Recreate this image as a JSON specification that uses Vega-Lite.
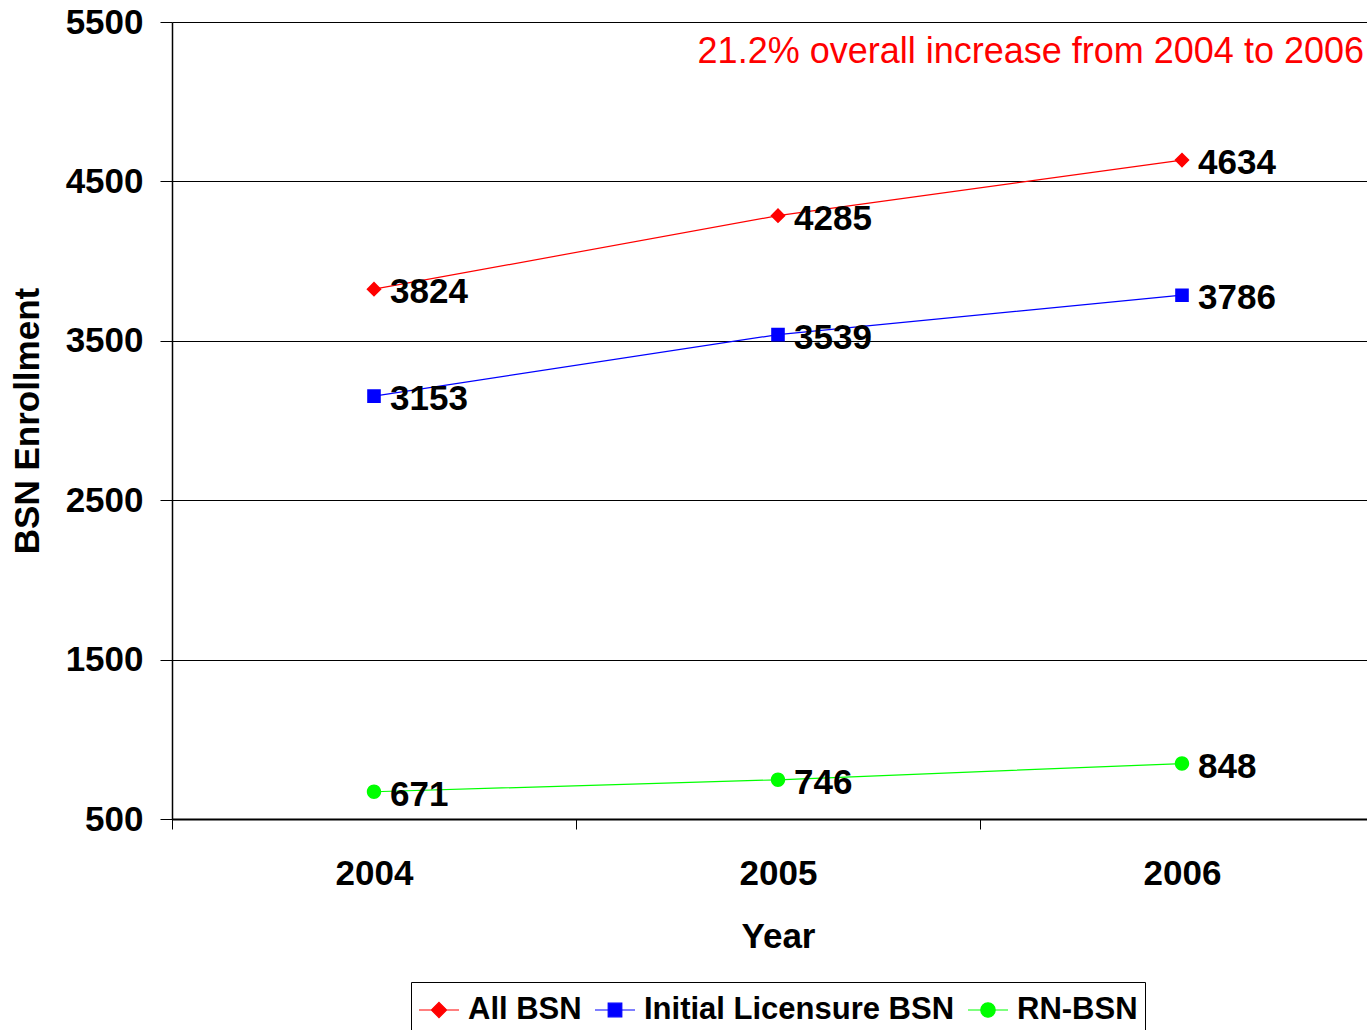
{
  "$schema": "https://vega.github.io/schema/vega-lite/v6.json",
  "autosize": "none",
  "width": 1212,
  "height": 797,
  "padding": {"left": 172, "top": 22, "right": 0, "bottom": 211},
  "background": "white",
  "config": {
    "font": "Liberation Sans",
    "view": {"stroke": null},
    "axis": {"labelFont": "Liberation Sans", "titleFont": "Liberation Sans", "labelColor": "black", "titleColor": "black", "domainColor": "black", "tickColor": "black"},
    "legend": {
      "title": null, "orient": "none", "legendX": 239, "legendY": 960, "direction": "horizontal",
      "strokeColor": "black", "padding": 7, "fillColor": "white",
      "labelFont": "Liberation Sans", "labelFontSize": 31, "labelFontWeight": "bold", "labelColor": "black", "labelLimit": 500,
      "labelOffset": 8, "columnPadding": 10, "symbolSize": 1600, "symbolStrokeWidth": 1.2
    }
  },
  "data": {
    "values": [
      {"Year": "2004", "Series": "All BSN", "Enrollment": 3824},
      {"Year": "2005", "Series": "All BSN", "Enrollment": 4285},
      {"Year": "2006", "Series": "All BSN", "Enrollment": 4634},
      {"Year": "2004", "Series": "Initial Licensure BSN", "Enrollment": 3153},
      {"Year": "2005", "Series": "Initial Licensure BSN", "Enrollment": 3539},
      {"Year": "2006", "Series": "Initial Licensure BSN", "Enrollment": 3786},
      {"Year": "2004", "Series": "RN-BSN", "Enrollment": 671},
      {"Year": "2005", "Series": "RN-BSN", "Enrollment": 746},
      {"Year": "2006", "Series": "RN-BSN", "Enrollment": 848}
    ]
  },
  "encoding": {
    "x": {
      "field": "Year", "type": "ordinal",
      "scale": {"paddingInner": 0, "paddingOuter": 0},
      "axis": {
        "title": "Year", "titleFontSize": 35, "titleFontWeight": "bold", "titlePadding": 28,
        "labelAngle": 0, "labelFontSize": 35, "labelFontWeight": "bold", "labelPadding": 27,
        "tickBand": "extent", "tickSize": 10, "tickWidth": 1, "domainWidth": 2, "grid": false
      }
    },
    "y": {
      "field": "Enrollment", "type": "quantitative",
      "scale": {"domain": [500, 5500], "nice": false, "zero": false},
      "axis": {
        "title": "BSN Enrollment", "titleFontSize": 35, "titleFontWeight": "bold", "titlePadding": 20,
        "values": [500, 1500, 2500, 3500, 4500, 5500], "format": "d",
        "labelFontSize": 35, "labelFontWeight": "bold", "labelPadding": 17,
        "tickSize": 12, "tickWidth": 1, "domainWidth": 1.5,
        "grid": true, "gridColor": "black", "gridWidth": 1.2, "gridOpacity": 1
      }
    },
    "color": {
      "field": "Series", "type": "nominal",
      "scale": {"domain": ["All BSN", "Initial Licensure BSN", "RN-BSN"], "range": ["#FF0000", "#0000FF", "#00FF00"]}
    }
  },
  "layer": [
    {
      "mark": {"type": "line", "strokeWidth": 1.2}
    },
    {
      "mark": {"type": "point", "filled": true, "opacity": 1, "size": 1600},
      "encoding": {
        "shape": {
          "field": "Series", "type": "nominal",
          "scale": {"domain": ["All BSN", "Initial Licensure BSN", "RN-BSN"], "range": [
            "M-1,0H1M0,-0.38L0.38,0L0,0.38L-0.38,0Z",
            "M-1,0H1M-0.34,-0.34H0.34V0.34H-0.34Z",
            "M-1,0H1M-0.36,0A0.36,0.36 0 1,0 0.36,0A0.36,0.36 0 1,0 -0.36,0Z"
          ]}
        }
      }
    },
    {
      "mark": {"type": "text", "align": "left", "baseline": "middle", "dx": 16, "dy": 3, "fontSize": 35, "fontWeight": "bold"},
      "encoding": {"text": {"field": "Enrollment", "type": "quantitative"}, "color": {"value": "black"}}
    },
    {
      "data": {"values": [{"Year": "2006", "Enrollment": 5312, "Label": "21.2% overall increase from 2004 to 2006"}]},
      "mark": {"type": "text", "align": "right", "baseline": "middle", "dx": 182, "fontSize": 36},
      "encoding": {"text": {"field": "Label"}, "color": {"value": "#FF0000"}}
    }
  ]
}
